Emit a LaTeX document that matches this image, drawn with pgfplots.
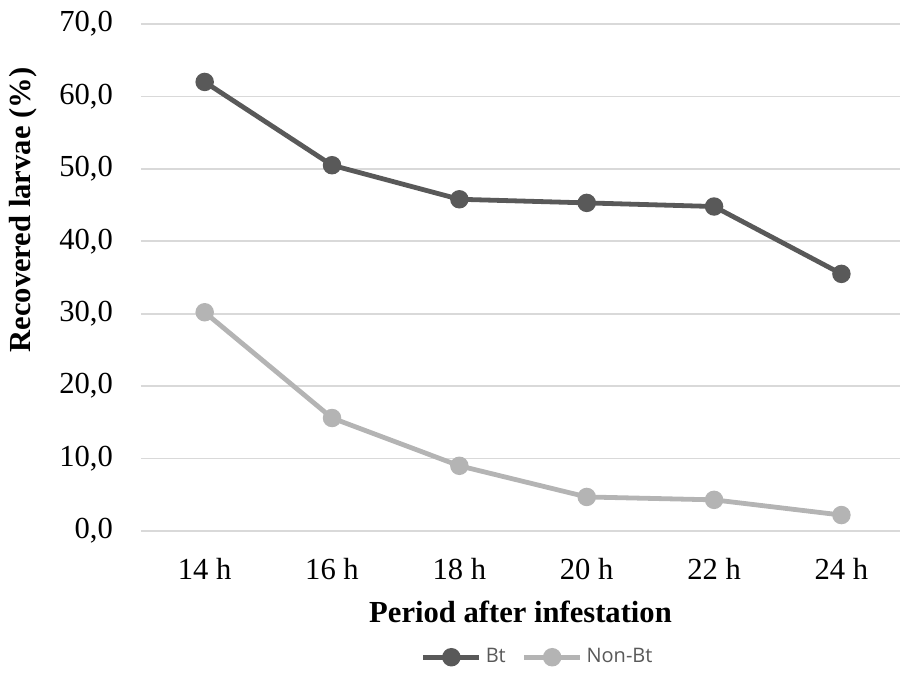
\documentclass[border=0pt]{standalone}
\usepackage{pgfplots}
\pgfplotsset{compat=1.18}
\usetikzlibrary{calc}
\usepackage{fontspec}
\setmainfont{Liberation Serif}
\newfontfamily\legfont{Open Sans}
\definecolor{btc}{HTML}{595959}
\definecolor{nbtc}{HTML}{B4B4B4}
\definecolor{gridc}{HTML}{D9D9D9}
\begin{document}
\begin{tikzpicture}
\begin{axis}[
  scale only axis,
  width=379.5pt, height=253.5pt,
  xmin=-0.5, xmax=5.46,
  ymin=0, ymax=70,
  xtick={0,1,2,3,4,5},
  xticklabels={14 h,16 h,18 h,20 h,22 h,24 h},
  ytick={0,10,20,30,40,50,60,70},
  axis line style={draw=none},
  tick style={draw=none},
  ymajorgrids, grid style={gridc, line width=0.8pt},
  /pgf/number format/.cd, fixed, fixed zerofill, precision=1, use comma, assume math mode=true,
  /pgfplots/.cd,
  ticklabel style={font=\fontsize{15.3}{16}\selectfont},
  yticklabel style={xshift=-10.5pt},
  xticklabel style={yshift=-10pt},
  xlabel={\textbf{Period after infestation}},
  ylabel={\textbf{Recovered larvae (\%)}},
  label style={font=\fontsize{15.3}{16}\selectfont},
  xlabel style={yshift=-4pt},
  ylabel style={at={(rel axis cs:0,0.633)}, anchor=center, yshift=59pt},
  legend style={at={(0.524,-0.249)}, anchor=center, legend columns=2, draw=none,
    font=\legfont\fontsize{10}{11}\selectfont, text=btc,
    /tikz/every even column/.append style={column sep=6pt}},
  legend image code/.code={\draw[mark repeat=2,mark phase=2,#1] plot coordinates {(0pt,0pt)(14pt,0pt)(28pt,0pt)};},
]
\addplot[btc, line width=2.4pt, mark=*, mark size=3.4pt, mark options={solid}] coordinates {
(0,62.0) (1,50.5) (2,45.8) (3,45.3) (4,44.8) (5,35.5)};
\addlegendentry{Bt}
\addplot[nbtc, line width=2.4pt, mark=*, mark size=3.4pt, mark options={solid}] coordinates {
(0,30.2) (1,15.6) (2,9.0) (3,4.7) (4,4.3) (5,2.2)};
\addlegendentry{Non-Bt}
\coordinate (sw) at (rel axis cs:0,0);
\coordinate (ne) at (rel axis cs:1,1);
\end{axis}
\pgfresetboundingbox
\path[use as bounding box] ($(sw)+(-70.5pt,-71pt)$) rectangle ($(ne)+(0.5pt,12pt)$);
\end{tikzpicture}
\end{document}
